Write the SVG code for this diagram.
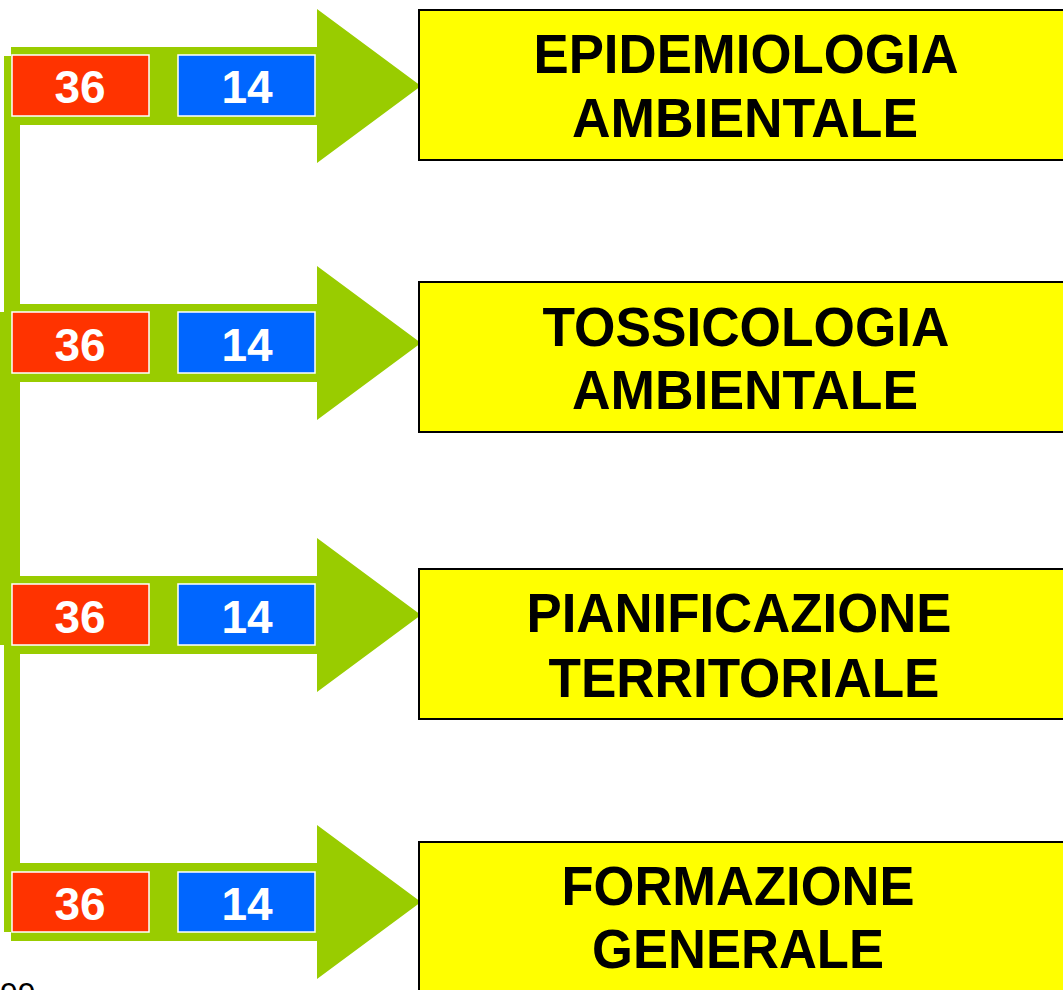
<svg xmlns="http://www.w3.org/2000/svg" width="1063" height="990" viewBox="0 0 1063 990">
<style>
.bar{fill:#99CC00}
.arrow{fill:#99CC00}
.red{fill:#FF3300;stroke:#FFFFFF;stroke-width:1.5}
.blue{fill:#0066FF;stroke:#FFFFFF;stroke-width:1.5}
.num{font-family:"Liberation Sans",Arial,sans-serif;font-weight:bold;font-size:46px;fill:#FFFFFF;text-anchor:middle}
.box{fill:#FFFF00;stroke:#000000;stroke-width:2}
.lbl{font-family:"Liberation Sans",Arial,sans-serif;font-weight:bold;font-size:55px;fill:#000000;text-anchor:middle}
</style>
<rect width="1063" height="990" fill="#FFFFFF"/>
<g id="connectors">
  <rect class="bar" x="4" y="56" width="16" height="876"/>
  <rect class="bar" x="0" y="312" width="5" height="333"/>
  <path class="arrow" d="M11,47 H317 V9 L421,86 L317,163 V125 H11 Z"/>
  <path class="arrow" d="M11,304 H317 V266 L421,343 L317,420 V382 H11 Z"/>
  <path class="arrow" d="M11,576 H317 V538 L421,615 L317,692 V654 H11 Z"/>
  <path class="arrow" d="M11,863 H317 V825 L421,902 L317,979 V941 H11 Z"/>
</g>
<g id="counts1">
  <rect class="red" x="12" y="55" width="137" height="61"/><text class="num" x="80" y="103">36</text>
  <rect class="blue" x="178" y="55" width="137" height="61"/><text class="num" x="247" y="103">14</text>
</g>
<g id="counts2">
  <rect class="red" x="12" y="312" width="137" height="61"/><text class="num" x="80" y="361">36</text>
  <rect class="blue" x="178" y="312" width="137" height="61"/><text class="num" x="247" y="361">14</text>
</g>
<g id="counts3">
  <rect class="red" x="12" y="584" width="137" height="61"/><text class="num" x="80" y="633">36</text>
  <rect class="blue" x="178" y="584" width="137" height="61"/><text class="num" x="247" y="633">14</text>
</g>
<g id="counts4">
  <rect class="red" x="12" y="872" width="137" height="60"/><text class="num" x="80" y="920">36</text>
  <rect class="blue" x="178" y="872" width="137" height="60"/><text class="num" x="247" y="920">14</text>
</g>
<g id="node1">
  <rect class="box" x="419" y="10" width="700" height="150"/>
  <text class="lbl" x="746" y="73" textLength="425" lengthAdjust="spacingAndGlyphs">EPIDEMIOLOGIA</text>
  <text class="lbl" x="745" y="137" textLength="346" lengthAdjust="spacingAndGlyphs">AMBIENTALE</text>
</g>
<g id="node2">
  <rect class="box" x="419" y="282" width="700" height="150"/>
  <text class="lbl" x="746" y="346" textLength="407" lengthAdjust="spacingAndGlyphs">TOSSICOLOGIA</text>
  <text class="lbl" x="745" y="409" textLength="346" lengthAdjust="spacingAndGlyphs">AMBIENTALE</text>
</g>
<g id="node3">
  <rect class="box" x="419" y="569" width="700" height="150"/>
  <text class="lbl" x="739" y="632" textLength="425" lengthAdjust="spacingAndGlyphs">PIANIFICAZIONE</text>
  <text class="lbl" x="744" y="697" textLength="391" lengthAdjust="spacingAndGlyphs">TERRITORIALE</text>
</g>
<g id="node4">
  <rect class="box" x="419" y="842" width="700" height="200"/>
  <text class="lbl" x="738" y="905" textLength="353" lengthAdjust="spacingAndGlyphs">FORMAZIONE</text>
  <text class="lbl" x="738" y="968" textLength="292" lengthAdjust="spacingAndGlyphs">GENERALE</text>
</g>
<text x="0" y="1005" font-family="Liberation Sans, Arial, sans-serif" font-size="32" fill="#000000">99</text>
</svg>
